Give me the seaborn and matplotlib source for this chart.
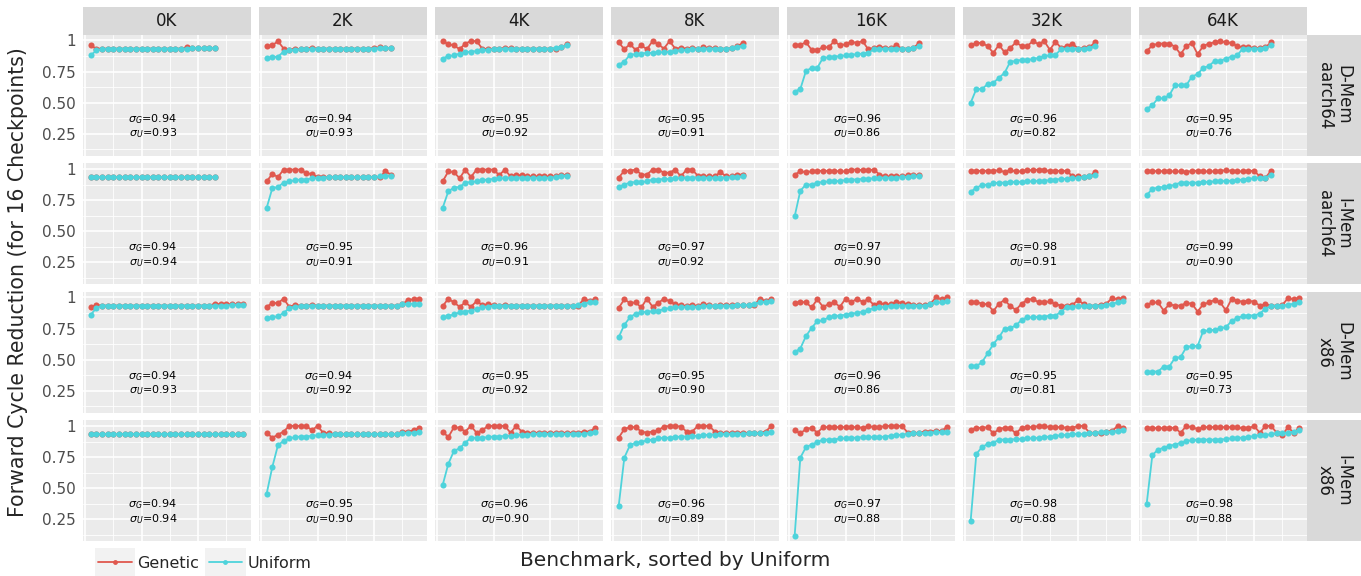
import matplotlib
matplotlib.use('Agg')
import matplotlib.pyplot as plt
from matplotlib.lines import Line2D
from matplotlib.patches import Rectangle
import seaborn as sns
import pandas as pd

# facet labels
sizes = ['0K', '2K', '4K', '8K', '16K', '32K', '64K']
row_labels = ['D-Mem\naarch64', 'I-Mem\naarch64', 'D-Mem\nx86', 'I-Mem\nx86']
methods = ['Genetic', 'Uniform']

# D-Mem aarch64 (23 benchmarks per panel)
dmem_aarch64_genetic = [
    [0.96, 0.935, 0.935, 0.935, 0.935, 0.935, 0.935, 0.935, 0.935, 0.935, 0.935, 0.935, 0.935, 0.935, 0.935, 0.935, 0.935, 0.945, 0.94, 0.94, 0.94, 0.94, 0.94],
    [0.955, 0.96, 0.995, 0.935, 0.925, 0.935, 0.93, 0.935, 0.94, 0.935, 0.935, 0.935, 0.935, 0.935, 0.935, 0.935, 0.935, 0.935, 0.935, 0.94, 0.945, 0.94, 0.94],
    [0.995, 0.97, 0.96, 0.93, 0.975, 0.995, 0.995, 0.935, 0.93, 0.935, 0.935, 0.94, 0.94, 0.935, 0.935, 0.935, 0.935, 0.935, 0.935, 0.935, 0.935, 0.945, 0.97],
    [0.985, 0.93, 0.97, 0.925, 0.96, 0.93, 0.995, 0.97, 0.935, 0.995, 0.935, 0.94, 0.935, 0.94, 0.935, 0.945, 0.94, 0.94, 0.935, 0.935, 0.94, 0.955, 0.98],
    [0.965, 0.965, 0.985, 0.925, 0.925, 0.945, 0.945, 0.995, 0.96, 0.97, 0.99, 0.98, 0.995, 0.93, 0.94, 0.95, 0.94, 0.94, 0.96, 0.935, 0.935, 0.94, 0.98],
    [0.96, 0.98, 0.98, 0.955, 0.9, 0.965, 0.905, 0.94, 0.985, 0.955, 0.955, 0.995, 0.97, 0.995, 0.925, 0.99, 0.94, 0.955, 0.975, 0.935, 0.94, 0.945, 0.985],
    [0.915, 0.96, 0.975, 0.975, 0.975, 0.95, 0.89, 0.955, 0.98, 0.89, 0.955, 0.975, 0.985, 0.995, 0.985, 0.98, 0.955, 0.945, 0.945, 0.94, 0.94, 0.945, 0.985],
]
dmem_aarch64_uniform = [
    [0.88, 0.92, 0.93, 0.935, 0.935, 0.935, 0.935, 0.935, 0.935, 0.935, 0.935, 0.935, 0.935, 0.935, 0.935, 0.935, 0.935, 0.935, 0.94, 0.94, 0.94, 0.94, 0.94],
    [0.86, 0.865, 0.87, 0.91, 0.92, 0.925, 0.93, 0.93, 0.93, 0.935, 0.935, 0.935, 0.935, 0.935, 0.935, 0.935, 0.935, 0.935, 0.935, 0.935, 0.94, 0.94, 0.94],
    [0.855, 0.875, 0.88, 0.895, 0.905, 0.91, 0.915, 0.92, 0.925, 0.93, 0.93, 0.935, 0.935, 0.935, 0.935, 0.935, 0.935, 0.935, 0.935, 0.935, 0.94, 0.95, 0.96],
    [0.805, 0.83, 0.885, 0.89, 0.895, 0.9, 0.9, 0.905, 0.905, 0.91, 0.915, 0.92, 0.925, 0.93, 0.93, 0.935, 0.935, 0.935, 0.935, 0.935, 0.94, 0.95, 0.955],
    [0.59, 0.61, 0.755, 0.78, 0.78, 0.86, 0.865, 0.87, 0.875, 0.88, 0.885, 0.89, 0.895, 0.9, 0.93, 0.93, 0.935, 0.935, 0.935, 0.935, 0.935, 0.94, 0.955],
    [0.5, 0.61, 0.61, 0.65, 0.66, 0.7, 0.74, 0.83, 0.835, 0.845, 0.845, 0.85, 0.86, 0.875, 0.88, 0.885, 0.93, 0.935, 0.935, 0.935, 0.935, 0.94, 0.955],
    [0.45, 0.48, 0.535, 0.535, 0.56, 0.64, 0.64, 0.64, 0.71, 0.73, 0.78, 0.795, 0.835, 0.835, 0.855, 0.87, 0.88, 0.935, 0.935, 0.935, 0.935, 0.94, 0.96],
]

# I-Mem aarch64 (23 benchmarks per panel)
imem_aarch64_genetic = [
    [0.935, 0.935, 0.935, 0.935, 0.935, 0.935, 0.935, 0.935, 0.935, 0.935, 0.935, 0.935, 0.935, 0.935, 0.935, 0.935, 0.935, 0.935, 0.935, 0.935, 0.935, 0.935, 0.935],
    [0.90, 0.96, 0.935, 0.995, 0.995, 0.995, 0.995, 0.965, 0.96, 0.935, 0.935, 0.935, 0.935, 0.935, 0.935, 0.935, 0.935, 0.935, 0.935, 0.935, 0.935, 0.98, 0.955],
    [0.90, 0.98, 0.975, 0.925, 0.995, 0.935, 0.995, 0.995, 0.995, 0.995, 0.95, 0.995, 0.94, 0.95, 0.95, 0.94, 0.94, 0.94, 0.94, 0.94, 0.94, 0.95, 0.95],
    [0.93, 0.985, 0.985, 0.995, 0.955, 0.955, 0.995, 0.995, 0.97, 0.97, 0.995, 0.94, 0.995, 0.995, 0.945, 0.94, 0.94, 0.94, 0.975, 0.94, 0.94, 0.955, 0.955],
    [0.955, 0.98, 0.975, 0.98, 0.985, 0.985, 0.985, 0.985, 0.98, 0.98, 0.995, 0.995, 0.99, 0.99, 0.995, 0.955, 0.94, 0.94, 0.94, 0.94, 0.95, 0.95, 0.95],
    [0.985, 0.985, 0.985, 0.985, 0.985, 0.99, 0.975, 0.99, 0.98, 0.98, 0.99, 0.99, 0.995, 0.995, 0.98, 0.985, 0.985, 0.985, 0.94, 0.94, 0.935, 0.94, 0.975],
    [0.98, 0.98, 0.985, 0.98, 0.98, 0.98, 0.98, 0.975, 0.985, 0.985, 0.98, 0.98, 0.98, 0.985, 0.99, 0.985, 0.98, 0.98, 0.985, 0.985, 0.94, 0.93, 0.985],
]
imem_aarch64_uniform = [
    [0.935, 0.935, 0.935, 0.935, 0.935, 0.935, 0.935, 0.935, 0.935, 0.935, 0.935, 0.935, 0.935, 0.935, 0.935, 0.935, 0.935, 0.935, 0.935, 0.935, 0.935, 0.935, 0.935],
    [0.687, 0.845, 0.855, 0.89, 0.9, 0.91, 0.915, 0.915, 0.925, 0.93, 0.93, 0.935, 0.935, 0.935, 0.935, 0.935, 0.935, 0.935, 0.935, 0.935, 0.94, 0.945, 0.945],
    [0.687, 0.82, 0.85, 0.855, 0.89, 0.895, 0.9, 0.91, 0.915, 0.92, 0.925, 0.925, 0.93, 0.93, 0.93, 0.93, 0.93, 0.93, 0.93, 0.93, 0.935, 0.945, 0.945],
    [0.855, 0.875, 0.89, 0.895, 0.895, 0.9, 0.915, 0.915, 0.92, 0.92, 0.925, 0.925, 0.93, 0.93, 0.93, 0.93, 0.93, 0.93, 0.93, 0.93, 0.935, 0.935, 0.94],
    [0.62, 0.825, 0.875, 0.875, 0.89, 0.895, 0.9, 0.9, 0.905, 0.91, 0.915, 0.915, 0.92, 0.92, 0.925, 0.925, 0.93, 0.93, 0.93, 0.935, 0.935, 0.94, 0.94],
    [0.815, 0.85, 0.87, 0.875, 0.885, 0.89, 0.89, 0.895, 0.895, 0.895, 0.9, 0.9, 0.905, 0.905, 0.91, 0.915, 0.92, 0.92, 0.925, 0.93, 0.935, 0.94, 0.955],
    [0.79, 0.84, 0.85, 0.855, 0.86, 0.875, 0.89, 0.89, 0.89, 0.89, 0.895, 0.895, 0.9, 0.9, 0.905, 0.905, 0.91, 0.915, 0.92, 0.925, 0.93, 0.93, 0.955],
]

# D-Mem x86 (28 benchmarks per panel)
dmem_x86_genetic = [
    [0.92, 0.94, 0.935, 0.935, 0.935, 0.935, 0.935, 0.935, 0.935, 0.935, 0.935, 0.935, 0.935, 0.935, 0.935, 0.935, 0.935, 0.935, 0.935, 0.935, 0.935, 0.935, 0.95, 0.945, 0.945, 0.945, 0.945, 0.945],
    [0.925, 0.955, 0.955, 0.99, 0.925, 0.94, 0.935, 0.935, 0.94, 0.935, 0.935, 0.935, 0.935, 0.935, 0.935, 0.935, 0.935, 0.935, 0.935, 0.935, 0.935, 0.935, 0.935, 0.935, 0.945, 0.98, 0.985, 0.99],
    [0.93, 0.99, 0.96, 0.925, 0.96, 0.925, 0.97, 0.94, 0.945, 0.94, 0.935, 0.94, 0.935, 0.935, 0.935, 0.935, 0.935, 0.935, 0.935, 0.935, 0.935, 0.935, 0.935, 0.935, 0.935, 0.99, 0.97, 0.99],
    [0.915, 0.985, 0.955, 0.96, 0.92, 0.99, 0.925, 0.955, 0.99, 0.97, 0.945, 0.94, 0.93, 0.94, 0.93, 0.945, 0.94, 0.93, 0.94, 0.94, 0.94, 0.94, 0.94, 0.94, 0.94, 0.99, 0.97, 0.99],
    [0.955, 0.965, 0.96, 0.92, 0.985, 0.925, 0.945, 0.96, 0.925, 0.99, 0.96, 0.99, 0.965, 0.985, 0.94, 0.955, 0.945, 0.945, 0.965, 0.955, 0.945, 0.94, 0.94, 0.94, 0.95, 1.0, 0.985, 1.0],
    [0.965, 0.965, 0.95, 0.945, 0.89, 0.95, 0.98, 0.93, 0.9, 0.95, 0.98, 0.99, 0.96, 0.96, 0.97, 0.945, 0.935, 0.935, 0.94, 0.98, 0.945, 0.935, 0.935, 0.94, 0.95, 0.995, 0.985, 0.995],
    [0.94, 0.96, 0.96, 0.895, 0.945, 0.935, 0.935, 0.955, 0.95, 0.887, 0.945, 0.96, 0.98, 0.96, 0.897, 0.987, 0.975, 0.965, 0.975, 0.965, 0.935, 0.945, 0.935, 0.935, 0.94, 0.995, 0.985, 0.995],
]
dmem_x86_uniform = [
    [0.86, 0.915, 0.935, 0.935, 0.935, 0.935, 0.935, 0.935, 0.935, 0.935, 0.935, 0.935, 0.935, 0.935, 0.935, 0.935, 0.935, 0.935, 0.935, 0.935, 0.935, 0.935, 0.935, 0.935, 0.935, 0.94, 0.94, 0.94],
    [0.835, 0.84, 0.85, 0.875, 0.915, 0.925, 0.93, 0.935, 0.935, 0.935, 0.935, 0.935, 0.935, 0.935, 0.935, 0.935, 0.935, 0.935, 0.935, 0.935, 0.935, 0.935, 0.935, 0.935, 0.945, 0.95, 0.95, 0.95],
    [0.84, 0.85, 0.865, 0.88, 0.885, 0.895, 0.91, 0.92, 0.925, 0.935, 0.935, 0.935, 0.935, 0.935, 0.935, 0.935, 0.935, 0.935, 0.935, 0.935, 0.935, 0.935, 0.935, 0.935, 0.94, 0.95, 0.96, 0.96],
    [0.68, 0.78, 0.84, 0.87, 0.88, 0.885, 0.89, 0.895, 0.905, 0.915, 0.92, 0.92, 0.925, 0.925, 0.925, 0.93, 0.93, 0.935, 0.935, 0.935, 0.935, 0.94, 0.94, 0.94, 0.95, 0.96, 0.965, 0.97],
    [0.56, 0.59, 0.69, 0.755, 0.81, 0.815, 0.84, 0.85, 0.855, 0.86, 0.87, 0.875, 0.885, 0.9, 0.915, 0.92, 0.925, 0.935, 0.935, 0.935, 0.935, 0.935, 0.935, 0.935, 0.95, 0.96, 0.96, 0.97],
    [0.448, 0.448, 0.48, 0.55, 0.625, 0.68, 0.75, 0.755, 0.775, 0.82, 0.84, 0.84, 0.845, 0.845, 0.855, 0.855, 0.885, 0.925, 0.925, 0.93, 0.93, 0.935, 0.935, 0.935, 0.94, 0.95, 0.96, 0.97],
    [0.40, 0.405, 0.405, 0.445, 0.445, 0.515, 0.52, 0.60, 0.61, 0.61, 0.73, 0.735, 0.74, 0.755, 0.76, 0.81, 0.835, 0.85, 0.855, 0.855, 0.87, 0.91, 0.93, 0.935, 0.935, 0.94, 0.95, 0.965],
]

# I-Mem x86 (28 benchmarks per panel)
imem_x86_genetic = [
    [0.935, 0.935, 0.935, 0.935, 0.935, 0.935, 0.935, 0.935, 0.935, 0.935, 0.935, 0.935, 0.935, 0.935, 0.935, 0.935, 0.935, 0.935, 0.935, 0.935, 0.935, 0.935, 0.935, 0.935, 0.935, 0.935, 0.935, 0.935],
    [0.945, 0.905, 0.93, 0.955, 1.0, 1.0, 1.0, 1.0, 0.965, 1.0, 0.945, 0.94, 0.935, 0.935, 0.935, 0.935, 0.935, 0.935, 0.935, 0.935, 0.935, 0.935, 0.935, 0.935, 0.955, 0.955, 0.965, 0.985],
    [0.955, 0.91, 0.99, 0.985, 0.955, 1.0, 0.945, 0.965, 1.0, 1.0, 1.0, 1.0, 0.945, 1.0, 0.955, 0.945, 0.945, 0.945, 0.945, 0.945, 0.945, 0.945, 0.945, 0.945, 0.945, 0.955, 0.955, 0.985],
    [0.905, 0.975, 0.99, 0.99, 0.955, 0.945, 0.955, 0.965, 0.995, 1.0, 1.0, 0.995, 0.955, 0.955, 1.0, 1.0, 1.0, 0.955, 0.945, 0.945, 0.945, 0.945, 0.945, 0.945, 0.945, 0.945, 0.955, 1.0],
    [0.965, 0.94, 0.975, 0.985, 0.945, 0.99, 0.99, 0.99, 0.99, 0.99, 0.99, 0.99, 0.985, 1.0, 0.99, 0.99, 1.0, 1.0, 1.0, 1.0, 0.945, 0.945, 0.945, 0.955, 0.955, 0.96, 0.96, 0.995],
    [0.97, 0.985, 0.985, 0.99, 0.94, 0.975, 0.985, 0.98, 0.94, 0.985, 0.99, 0.99, 1.0, 1.0, 0.99, 0.99, 0.99, 0.985, 0.985, 1.0, 1.0, 0.945, 0.945, 0.945, 0.955, 0.96, 1.0, 0.98],
    [0.98, 0.98, 0.985, 0.98, 0.985, 0.985, 0.945, 1.0, 0.99, 0.975, 0.99, 0.99, 0.99, 0.99, 0.99, 0.99, 0.99, 0.98, 0.98, 1.0, 0.945, 1.0, 1.0, 0.945, 0.93, 0.99, 0.945, 0.985],
]
imem_x86_uniform = [
    [0.935, 0.935, 0.935, 0.935, 0.935, 0.935, 0.935, 0.935, 0.935, 0.935, 0.935, 0.935, 0.935, 0.935, 0.935, 0.935, 0.935, 0.935, 0.935, 0.935, 0.935, 0.935, 0.935, 0.935, 0.935, 0.935, 0.935, 0.935],
    [0.455, 0.67, 0.845, 0.88, 0.9, 0.91, 0.915, 0.915, 0.92, 0.925, 0.93, 0.93, 0.935, 0.935, 0.935, 0.935, 0.935, 0.935, 0.935, 0.935, 0.935, 0.935, 0.935, 0.935, 0.94, 0.945, 0.945, 0.955],
    [0.525, 0.695, 0.8, 0.82, 0.865, 0.905, 0.905, 0.905, 0.91, 0.915, 0.915, 0.92, 0.92, 0.925, 0.93, 0.93, 0.935, 0.935, 0.935, 0.935, 0.935, 0.935, 0.935, 0.935, 0.935, 0.935, 0.945, 0.955],
    [0.355, 0.745, 0.845, 0.865, 0.87, 0.885, 0.89, 0.9, 0.905, 0.905, 0.91, 0.915, 0.915, 0.92, 0.92, 0.925, 0.93, 0.93, 0.935, 0.935, 0.935, 0.935, 0.935, 0.94, 0.94, 0.94, 0.945, 0.955],
    [0.12, 0.745, 0.83, 0.85, 0.87, 0.89, 0.89, 0.89, 0.9, 0.9, 0.905, 0.905, 0.91, 0.91, 0.91, 0.91, 0.915, 0.92, 0.925, 0.93, 0.935, 0.94, 0.94, 0.945, 0.945, 0.95, 0.95, 0.955],
    [0.24, 0.775, 0.83, 0.855, 0.865, 0.89, 0.89, 0.89, 0.895, 0.895, 0.9, 0.9, 0.905, 0.91, 0.915, 0.92, 0.925, 0.93, 0.935, 0.935, 0.935, 0.94, 0.945, 0.95, 0.95, 0.955, 0.96, 0.965],
    [0.375, 0.765, 0.81, 0.825, 0.84, 0.85, 0.865, 0.88, 0.885, 0.89, 0.89, 0.89, 0.89, 0.89, 0.895, 0.9, 0.905, 0.905, 0.91, 0.92, 0.925, 0.925, 0.935, 0.94, 0.945, 0.945, 0.955, 0.965],
]

# annotated averages per panel (rows x columns)
sigma_genetic = [
    [0.94, 0.94, 0.95, 0.95, 0.96, 0.96, 0.95],
    [0.94, 0.95, 0.96, 0.97, 0.97, 0.98, 0.99],
    [0.94, 0.94, 0.95, 0.95, 0.96, 0.95, 0.95],
    [0.94, 0.95, 0.96, 0.96, 0.97, 0.98, 0.98],
]
sigma_uniform = [
    [0.93, 0.93, 0.92, 0.91, 0.86, 0.82, 0.76],
    [0.94, 0.91, 0.91, 0.92, 0.90, 0.91, 0.90],
    [0.93, 0.92, 0.92, 0.90, 0.86, 0.81, 0.73],
    [0.94, 0.90, 0.90, 0.89, 0.88, 0.88, 0.88],
]

series = [
    (dmem_aarch64_genetic, dmem_aarch64_uniform),
    (imem_aarch64_genetic, imem_aarch64_uniform),
    (dmem_x86_genetic, dmem_x86_uniform),
    (imem_x86_genetic, imem_x86_uniform),
]

# long table
records = []
for r, (gen, uni) in enumerate(series):
    for c, size in enumerate(sizes):
        for method, vals in (('Genetic', gen[c]), ('Uniform', uni[c])):
            for i, v in enumerate(vals, start=1):
                records.append({'row': r, 'col': c, 'method': method, 'bench': i, 'value': v})
df = pd.DataFrame(records)

palette = {'Genetic': '#E0584E', 'Uniform': '#4ED3DB'}

sns.set_style('darkgrid', {'axes.facecolor': '#EBEBEB', 'grid.color': 'white'})
plt.rcParams['font.family'] = ['DejaVu Sans']

W, H = 1361, 576
fig, axes = plt.subplots(4, 7, figsize=(W / 100, H / 100), dpi=100, sharex=True, sharey=True)
fig.subplots_adjust(left=83 / W, right=1307 / W, top=1 - 35 / H, bottom=1 - 541 / H,
                    wspace=0.048, hspace=0.066)

for r in range(4):
    for c in range(7):
        ax = axes[r, c]
        sub = df[(df['row'] == r) & (df['col'] == c)]
        sns.lineplot(data=sub, x='bench', y='value', hue='method', palette=palette,
                     marker='o', markersize=4.4, markeredgewidth=0, linewidth=1.3,
                     ax=ax, legend=False)
        ax.set_xlim(-0.35, 29.35)
        ax.set_ylim(0.076, 1.044)
        ax.set_xticks([0, 10, 20])
        ax.set_xticks([5, 15, 25], minor=True)
        ax.set_yticks([0.25, 0.5, 0.75, 1.0])
        ax.set_yticks([0.125, 0.375, 0.625, 0.875], minor=True)
        ax.grid(which='major', color='white', linewidth=1.2)
        ax.grid(which='minor', color='white', linewidth=0.6)
        ax.set_xlabel('')
        ax.set_ylabel('')
        for s in ax.spines.values():
            s.set_visible(False)
        ax.tick_params(axis='x', which='both', length=0, labelbottom=False)
        ax.tick_params(axis='y', which='minor', length=0)
        if c == 0:
            ax.set_yticklabels(['0.25', '0.50', '0.75', '1'])
            ax.tick_params(axis='y', which='major', length=3, width=0.8, color='#333333',
                           labelsize=11, labelcolor='#4D4D4D', pad=2)
        else:
            ax.tick_params(axis='y', which='major', length=0, labelleft=False)
        ax.text(12, 0.372, f'$\\sigma_G$={sigma_genetic[r][c]:.2f}', ha='center', va='center',
                fontsize=8, color='black')
        ax.text(12, 0.253, f'$\\sigma_U$={sigma_uniform[r][c]:.2f}', ha='center', va='center',
                fontsize=8, color='black')

# column strips
for c, size in enumerate(sizes):
    pos = axes[0, c].get_position()
    fig.patches.append(Rectangle((pos.x0, pos.y1), pos.width, 28 / H, transform=fig.transFigure,
                                 facecolor='#D9D9D9', edgecolor='none', zorder=0))
    fig.text(pos.x0 + pos.width / 2, pos.y1 + 14 / H, size, ha='center', va='center',
             fontsize=12, color='#1A1A1A')

# row strips
for r, lab in enumerate(row_labels):
    pos = axes[r, 6].get_position()
    fig.patches.append(Rectangle((pos.x1, pos.y0), 54 / W, pos.height, transform=fig.transFigure,
                                 facecolor='#D9D9D9', edgecolor='none', zorder=0))
    fig.text(pos.x1 + 27 / W, pos.y0 + pos.height / 2, lab, ha='center', va='center',
             rotation=-90, fontsize=12, color='#1A1A1A', linespacing=1.0, multialignment='center')

fig.text(18 / W, 1 - 282 / H, 'Forward Cycle Reduction (for 16 Checkpoints)', rotation=90,
         ha='center', va='center', fontsize=14.8)
fig.text(675 / W, 1 - 560 / H, 'Benchmark, sorted by Uniform', ha='center', va='center', fontsize=14.5)

handles = [Line2D([], [], color=palette[m], marker='o', markersize=3.5, markeredgewidth=0,
                  linewidth=1.3) for m in methods]
leg = fig.legend(handles, methods, loc='center left', bbox_to_anchor=(98 / W, 1 - 563 / H), ncol=2,
                 frameon=False, fontsize=11.5, handlelength=2.1, columnspacing=0.6, handletextpad=0.35,
                 borderaxespad=0, borderpad=0)

# grey key backgrounds behind the legend handles
fig.canvas.draw()
inv = fig.transFigure.inverted()
for line in leg.get_lines():
    bb = line.get_window_extent(fig.canvas.get_renderer())
    (x0, y0), (x1, y1) = inv.transform([[bb.x0, bb.y0], [bb.x1, bb.y1]])
    yc = (y0 + y1) / 2
    fig.patches.append(Rectangle((x0 - 1 / W, yc - 14 / H), (x1 - x0) + 2 / W, 28 / H,
                                 transform=fig.transFigure, facecolor='#F2F2F2',
                                 edgecolor='none', zorder=0))

fig.savefig('out.png', dpi=100)
